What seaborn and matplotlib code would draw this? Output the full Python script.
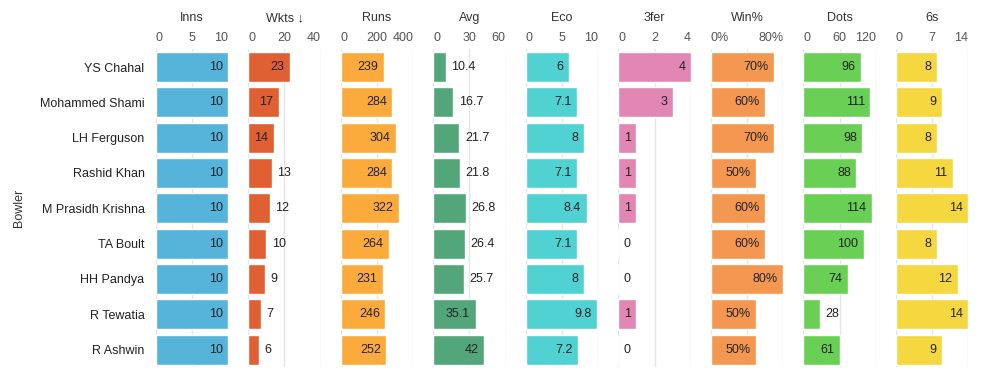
import numpy as np
import pandas as pd
import seaborn as sns
import matplotlib
matplotlib.use('Agg')
import matplotlib.pyplot as plt

# ---------------- data ----------------
bowlers = ['YS Chahal', 'Mohammed Shami', 'LH Ferguson', 'Rashid Khan', 'M Prasidh Krishna',
           'TA Boult', 'HH Pandya', 'R Tewatia', 'R Ashwin']
inns = [10, 10, 10, 10, 10, 10, 10, 10, 10]
wkts = [23, 17, 14, 13, 12, 10, 9, 7, 6]
runs = [239, 284, 304, 284, 322, 264, 231, 246, 252]
avg = [10.4, 16.7, 21.7, 21.8, 26.8, 26.4, 25.7, 35.1, 42]
eco = [6, 7.1, 8, 7.1, 8.4, 7.1, 8, 9.8, 7.2]
three_fer = [4, 3, 1, 1, 1, 0, 0, 1, 0]
win_pct = [70, 60, 70, 50, 60, 60, 80, 50, 50]
dots = [96, 111, 98, 88, 114, 100, 74, 28, 61]
sixes = [8, 9, 8, 11, 14, 8, 12, 14, 9]

columns = ['Inns', 'Wkts', 'Runs', 'Avg', 'Eco', '3fer', 'Win%', 'Dots', '6s']
titles = ['Inns', 'Wkts \u2193', 'Runs', 'Avg', 'Eco', '3fer', 'Win%', 'Dots', '6s']
ticks = [[0, 5, 10], [0, 20, 40], [0, 200, 400], [0, 30, 60], [0, 5, 10],
         [0, 2, 4], [0, 40, 80], [0, 60, 120], [0, 7, 14]]
tick_labels = [['0', '5', '10'], ['0', '20', '40'], ['0', '200', '400'], ['0', '30', '60'],
               ['0', '5', '10'], ['0', '2', '4'], ['0%', '', '80%'], ['0', '60', '120'],
               ['0', '7', '14']]
colors = ['#56B4DA', '#E05F33', '#FBAB3B', '#53A679', '#50D1D2',
          '#E286B3', '#F49751', '#6ACF55', '#F5D73F']

df = pd.DataFrame({'Bowler': bowlers, 'Inns': inns, 'Wkts': wkts, 'Runs': runs, 'Avg': avg,
                   'Eco': eco, '3fer': three_fer, 'Win%': win_pct, 'Dots': dots, '6s': sixes})

sns.set_theme(style='white')
plt.rcParams['font.family'] = ['Liberation Sans', 'DejaVu Sans']
font_size = 9

W, H = 1004, 386
fig = plt.figure(figsize=(W / 100, H / 100), dpi=100)

ax_top, ax_bot = 49.4, 367.2
ax_w = 72.6
renderer = fig.canvas.get_renderer()

axes = []
for i, col in enumerate(columns):
    x0 = 155.7 + i * 92.5
    ax = fig.add_axes([x0 / W, 1 - ax_bot / H, ax_w / W, (ax_bot - ax_top) / H])
    axes.append(ax)
    sns.barplot(data=df, x=col, y='Bowler', ax=ax, color=colors[i], width=0.85,
                saturation=1, orient='h', zorder=2)
    ax.set_xlim(0, ticks[i][-1])
    ax.set_ylim(8.5, -0.5)
    ax.set_xticks(ticks[i])
    ax.set_xticklabels(tick_labels[i])
    ax.xaxis.tick_top()
    ax.tick_params(axis='x', length=0, pad=4, labelsize=font_size, labelcolor='#555555')
    xtl = ax.get_xticklabels()
    xtl[0].set_ha('left')
    xtl[-1].set_ha('right')
    ax.grid(axis='x', color='#E2E5E9', linewidth=1, zorder=0)
    ax.set_axisbelow(True)
    for s in ax.spines.values():
        s.set_visible(False)
    ax.set_xlabel('')
    ax.text(0.5, 1 + 31.4 / (ax_bot - ax_top), titles[i], transform=ax.transAxes,
            ha='center', va='center', fontsize=font_size, color='#333333')
    if i == 0:
        ax.tick_params(axis='y', length=0, pad=8, labelsize=font_size, labelcolor='#222222')
        ax.set_ylabel('Bowler', fontsize=font_size, color='#333333')
        ax.yaxis.set_label_coords((25 - 155.7) / ax_w, 0.5)
    else:
        ax.set_yticklabels([])
        ax.tick_params(axis='y', length=0)
        ax.set_ylabel('')

    # value labels: inside the bar if it fits, otherwise to the right
    px_per_unit = ax_w / ticks[i][-1]
    for j, v in enumerate(df[col]):
        lab = '{:g}%'.format(v) if col == 'Win%' else '{:g}'.format(v)
        t = ax.text(v, j, lab, ha='right', va='center', fontsize=font_size, color='#222222')
        tw = t.get_window_extent(renderer=renderer).width
        if v * px_per_unit >= tw + 10.5:
            t.set_position((v - 5.5 / px_per_unit, j))
        else:
            t.set_position((v + 5.5 / px_per_unit, j))
            t.set_ha('left')

plt.savefig('out.png', dpi=100)
